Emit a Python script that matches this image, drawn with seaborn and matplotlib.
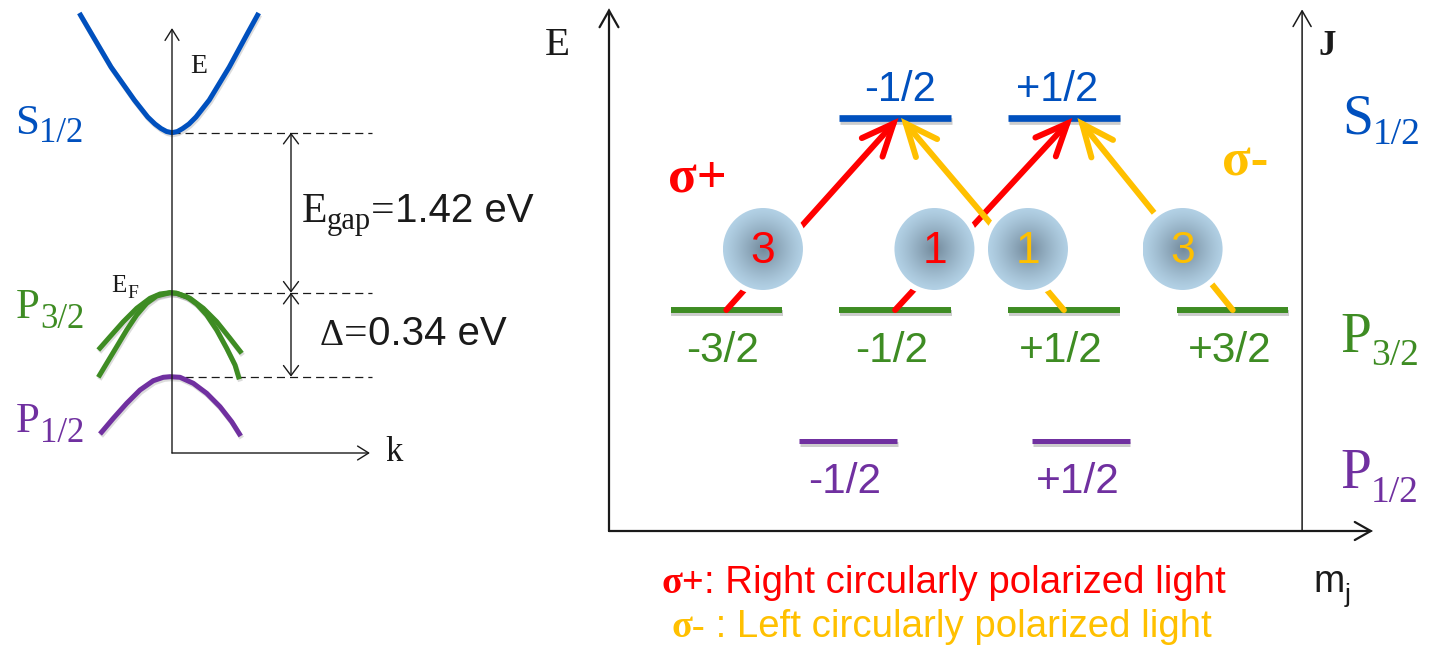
import numpy as np
import matplotlib
matplotlib.use("Agg")
import matplotlib.pyplot as plt
import matplotlib.patheffects as pe
from matplotlib.patches import Ellipse
import seaborn as sns

# ---------------- data ----------------
# Left panel: schematic band dispersion E(k) (arbitrary schematic units)
k_S12 = [-0.927, -0.81, -0.61, -0.377, -0.243, -0.17, -0.11, -0.055, 0.0, 0.055, 0.107, 0.17, 0.24, 0.373, 0.573, 0.757, 0.867]
E_S12 = [4.40, 4.20, 3.86, 3.53, 3.36, 3.29, 3.245, 3.215, 3.203, 3.215, 3.245, 3.29, 3.36, 3.53, 3.86, 4.20, 4.40]
k_HH = [-0.737, -0.62, -0.487, -0.353, -0.22, -0.12, -0.02, 0.047, 0.18, 0.313, 0.447, 0.58, 0.697]
E_HH = [1.03, 1.163, 1.313, 1.447, 1.547, 1.59, 1.603, 1.597, 1.547, 1.447, 1.313, 1.147, 0.997]
k_LH = [-0.737, -0.653, -0.553, -0.453, -0.353, -0.253, -0.153, -0.02, 0.047, 0.147, 0.247, 0.347, 0.447, 0.547, 0.63, 0.673]
E_LH = [0.757, 0.897, 1.063, 1.23, 1.38, 1.497, 1.57, 1.603, 1.597, 1.563, 1.49, 1.38, 1.23, 1.047, 0.88, 0.737]
k_SO = [-0.72, -0.587, -0.453, -0.32, -0.187, -0.087, -0.02, 0.08, 0.213, 0.347, 0.48, 0.597, 0.687]
E_SO = [0.19, 0.347, 0.497, 0.63, 0.723, 0.757, 0.763, 0.757, 0.697, 0.597, 0.463, 0.313, 0.17]
E_gap_eV = 1.42
Delta_eV = 0.34

# Right panel: m_j sub-levels and optical transitions
mj_S12 = [-0.5, 0.5]
lab_S12 = ["-1/2", "+1/2"]
mj_P32 = [-1.5, -0.5, 0.5, 1.5]
lab_P32 = ["-3/2", "-1/2", "+1/2", "+3/2"]
mj_P12 = [-0.5, 0.5]
lab_P12 = ["-1/2", "+1/2"]
level_E = [4.13, 2.21, 0.90]          # S1/2, P3/2, P1/2 (schematic)
trans_from = [-1.5, -0.5, 0.5, 1.5]   # m_j in P3/2
trans_to = [-0.5, 0.5, -0.5, 0.5]     # m_j in S1/2
trans_strength = [3, 1, 1, 3]
trans_pol = ["+", "+", "-", "-"]

# ---------------- layout / style ----------------
BLUE, GREEN, PURPLE = "#0050BE", "#3E8C23", "#7030A0"
RED, GOLD = "#FF0000", "#FFC000"
SERIF = ["Liberation Serif", "DejaVu Serif"]
SANS = ["Liberation Sans", "DejaVu Sans"]

p12_shift = [-0.28, 0.10]
s12_lab_shift = [0.03, -0.04]
tip_shift = [0.02, 0.05, 0.035, 0.08]
circle_mj = [-1.283, -0.267, 0.287, 1.203]
circle_E = 2.82
circle_w, circle_h = 0.474, 0.82

sns.set_theme(style="white")
plt.rcParams["font.family"] = SANS
plt.rcParams["lines.scale_dashes"] = False

W, H = 1431, 648
fig = plt.figure(figsize=(W / 100, H / 100), dpi=100)

axT = fig.add_axes([0, 0, 1, 1])
axT.set_xlim(0, W); axT.set_ylim(H, 0); axT.axis("off")

axL = fig.add_axes([0, 0, 560 / W, 1])
axL.axis("off")

axR = fig.add_axes([609 / W, (H - 531) / H, (1373 - 609) / W, (531 - 8) / H])
axR.axis("off")

for a in (axT, axL, axR):
    a.set_facecolor("none")

renderer = fig.canvas.get_renderer()


def rich(x, y, pieces):
    for s, size, fam, color, dy, weight in pieces:
        t = axT.text(x, y + dy, s, fontsize=size, family=fam, color=color,
                     fontweight=weight, ha="left", va="baseline")
        x += t.get_window_extent(renderer=renderer).width


def arrow(ax, p0, p1, lw, hl, hw, color="k", style="->", z=3):
    ax.annotate("", xy=p1, xytext=p0, annotation_clip=False, zorder=z,
                arrowprops=dict(arrowstyle=f"{style},head_length={hl},head_width={hw}",
                                lw=lw, color=color, shrinkA=0, shrinkB=0,
                                mutation_scale=1, joinstyle="miter"))


# ---------------- left panel: bands ----------------
band_shadow = [pe.SimpleLineShadow(offset=(0.8, -1.5), shadow_color="k", alpha=0.15), pe.Normal()]
for kk, ee, col in [(k_S12, E_S12, BLUE), (k_HH, E_HH, GREEN), (k_LH, E_LH, GREEN), (k_SO, E_SO, PURPLE)]:
    sns.lineplot(x=kk, y=ee, ax=axL, color=col, sort=False, estimator=None)
    ln = axL.lines[-1]
    ln.set_linewidth(3.6)
    ln.set_path_effects(band_shadow)
    ln.set_solid_capstyle("butt")
    ln.set_solid_joinstyle("round")

E_cb = min(E_S12)
E_vb = max(max(E_HH), max(E_LH))
E_so = max(E_SO)
for e in (E_cb, E_vb, E_so):
    axL.plot([0, 2.0], [e, e], color="k", lw=0.9, dashes=(5.8, 3.6), zorder=1)
arrow(axL, (1.19, E_vb), (1.19, E_cb), 1.0, 7.2, 5.4, style="<->")
arrow(axL, (1.19, E_so), (1.19, E_vb), 1.0, 7.2, 5.4, style="<->")
arrow(axL, (0, 0), (0, 4.25), 1.0, 8, 5)
arrow(axL, (0, 0), (1.98, 0), 1.0, 8, 5)
axL.set_xlim(-1.72, 3.88); axL.set_ylim(-1.95, 4.53)

rich(15, 134.5, [("S", 31, SERIF, BLUE, 0, "normal"), ("1/2", 25, SERIF, BLUE, 8, "normal")])
rich(16, 318.3, [("P", 31, SERIF, GREEN, 0, "normal"), ("3/2", 25, SERIF, GREEN, 10, "normal")])
rich(16, 431.7, [("P", 31, SERIF, PURPLE, 0, "normal"), ("1/2", 25, SERIF, PURPLE, 10, "normal")])
rich(111.7, 291.7, [("E", 18, SERIF, "k", 0, "normal"), ("F", 14, SERIF, "k", 6.5, "normal")])
rich(190, 73, [("E", 20, SERIF, "k", 0, "normal")])
rich(385, 461, [("k", 25, SERIF, "k", 0, "normal")])
rich(301.7, 221.7, [("E", 30, SERIF, "k", 0, "normal"), ("gap", 22, SERIF, "k", 7.5, "normal"),
                    ("=", 30, SERIF, "k", 0, "normal"), (f"{E_gap_eV:.2f} eV", 29, SANS, "k", 0, "normal")])
rich(320, 345, [("Δ", 27, SERIF, "k", 0, "normal"), ("=", 30, SERIF, "k", 0, "normal"),
                (f"{Delta_eV:.2f} eV", 29, SANS, "k", 0, "normal")])

# ---------------- right panel: levels ----------------
bar_shadow = [pe.SimpleLineShadow(offset=(0.5, -2.5), shadow_color="k", alpha=0.22), pe.Normal()]
E_S, E_P3, E_P1 = level_E
for m, lab, sh in zip(mj_S12, lab_S12, s12_lab_shift):
    ln, = axR.plot([m - 0.33, m + 0.33], [E_S, E_S], color=BLUE, lw=4.8, solid_capstyle="butt", zorder=2)
    ln.set_path_effects(bar_shadow)
    axR.text(m + sh, E_S + 0.17, lab, color=BLUE, fontsize=30, family=SANS, ha="center", va="baseline")
for m, lab in zip(mj_P32, lab_P32):
    ln, = axR.plot([m - 0.33, m + 0.33], [E_P3, E_P3], color=GREEN, lw=4.3, solid_capstyle="butt", zorder=2)
    ln.set_path_effects(bar_shadow)
    axR.text(m - 0.02, E_P3 - 0.52, lab, color=GREEN, fontsize=30.5, family=SANS, ha="center", va="baseline")
for m, lab, sh in zip(mj_P12, lab_P12, p12_shift):
    c = m + sh
    ln, = axR.plot([c - 0.29, c + 0.29], [E_P1, E_P1], color=PURPLE, lw=3.6, solid_capstyle="butt", zorder=2)
    ln.set_path_effects(bar_shadow)
    axR.text(c - 0.02, E_P1 - 0.52, lab, color=PURPLE, fontsize=30.5, family=SANS, ha="center", va="baseline")

# transitions
for f, t, pol, sh in zip(trans_from, trans_to, trans_pol, tip_shift):
    col = RED if pol == "+" else GOLD
    arrow(axR, (f, E_P3), (t + sh, E_S), 4.3, 23, 10, color=col, z=3.5 if pol == "-" else 3)

# circles with relative strengths
n = 241
yy, xx = np.mgrid[-1:1:n * 1j, -1:1:n * 1j]
r = np.clip(np.hypot(xx, yy), 0, 1)
edge = np.array([0.70, 0.82, 0.90])
center = np.array([0.45, 0.54, 0.61])
img = edge + (center - edge) * ((1 - r) ** 1.2)[..., None]
for cm, s, pol in zip(circle_mj, trans_strength, trans_pol):
    col = RED if pol == "+" else GOLD
    axR.add_patch(Ellipse((cm, circle_E), circle_w + 0.065, circle_h + 0.11, fc="white", ec="none", zorder=4))
    im = axR.imshow(img, extent=(cm - circle_w / 2, cm + circle_w / 2,
                                 circle_E - circle_h / 2, circle_E + circle_h / 2),
                    origin="lower", aspect="auto", interpolation="bilinear", zorder=4.1)
    disc = Ellipse((cm, circle_E), circle_w, circle_h, fc="none", ec="none")
    axR.add_patch(disc)
    im.set_clip_path(disc)
    axR.text(cm, circle_E - 0.14, str(s), color=col, fontsize=32, family=SANS,
             ha="center", va="baseline", zorder=5)

# axes of the level diagram
arrow(axR, (-2.195, 0), (-2.195, 5.227), 1.6, 12, 6.8)
arrow(axR, (-2.195, 0), (2.331, 0), 1.6, 11.5, 6.5)
arrow(axR, (1.911, 0), (1.911, 5.217), 1.1, 11.3, 6.5)
axR.set_xlim(-2.195, 2.331); axR.set_ylim(0, 5.23)

rich(545, 55, [("E", 29.5, SERIF, "k", 0, "normal")])
rich(1318, 55, [("J", 25, SERIF, "k", 0, "bold")])
rich(1342, 133, [("S", 40, SERIF, BLUE, 0, "normal"), ("1/2", 27, SERIF, BLUE, 11, "normal")])
rich(1340, 352, [("P", 40, SERIF, GREEN, 0, "normal"), ("3/2", 27, SERIF, GREEN, 13, "normal")])
rich(1340, 488, [("P", 40, SERIF, PURPLE, 0, "normal"), ("1/2", 27, SERIF, PURPLE, 14, "normal")])
rich(1313, 591.7, [("m", 27, SANS, "k", 0, "normal"), ("j", 19, SANS, "k", 10, "normal")])
rich(668, 191, [("σ+", 38, SERIF, RED, 0, "bold")])
rich(1222, 176, [("σ-", 38, SERIF, GOLD, 0, "bold")])
rich(661.7, 593.3, [("σ+", 27.6, SERIF, RED, 0, "bold"), (": Right circularly polarized light", 27.6, SANS, RED, 0, "normal")])
rich(671.7, 637, [("σ-", 27.6, SERIF, GOLD, 0, "bold"), (" : Left circularly polarized light", 27.6, SANS, GOLD, 0, "normal")])

fig.savefig("out.png", dpi=100)
